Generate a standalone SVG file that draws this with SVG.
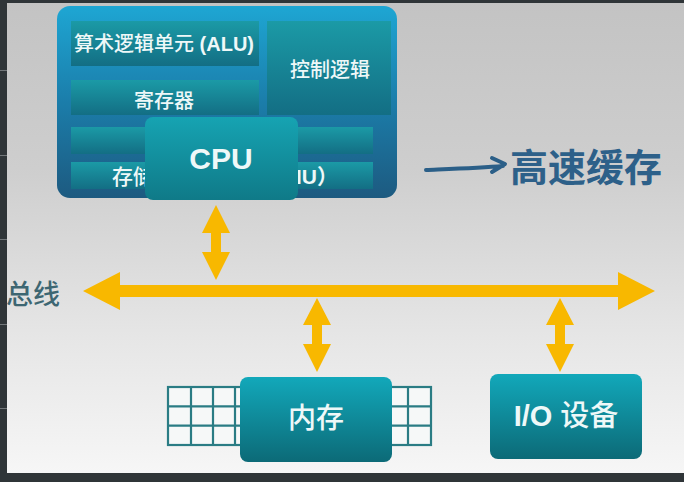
<svg xmlns="http://www.w3.org/2000/svg" width="684" height="482" viewBox="0 0 684 482">
  <defs>
    <linearGradient id="bg" x1="0" y1="0" x2="0" y2="1">
      <stop offset="0" stop-color="#c3c3c3"/>
      <stop offset="0.35" stop-color="#cecece"/>
      <stop offset="0.7" stop-color="#e6e6e6"/>
      <stop offset="1" stop-color="#f7f7f7"/>
    </linearGradient>
    <linearGradient id="outer" x1="0" y1="0" x2="0" y2="1">
      <stop offset="0" stop-color="#1ea6d3"/>
      <stop offset="0.5" stop-color="#1b7daa"/>
      <stop offset="1" stop-color="#1d5a80"/>
    </linearGradient>
    <linearGradient id="blk" x1="0" y1="0" x2="0" y2="1">
      <stop offset="0" stop-color="#1b9aa6"/>
      <stop offset="1" stop-color="#136e84"/>
    </linearGradient>
    <linearGradient id="chip" x1="0" y1="0" x2="0" y2="1">
      <stop offset="0" stop-color="#16a3b2"/>
      <stop offset="1" stop-color="#0f7a88"/>
    </linearGradient>
    <linearGradient id="box" x1="0" y1="0" x2="0" y2="1">
      <stop offset="0" stop-color="#12a8ba"/>
      <stop offset="1" stop-color="#0c6a77"/>
    </linearGradient>
    <style>
      .blk { fill: url(#blk); }
      .box { fill: url(#box); }
      .lbl { font-family: "Liberation Sans", "Noto Sans CJK SC", sans-serif; fill: #eef8f8; font-weight: 500; text-anchor: middle; dominant-baseline: central; }
      .b { font-weight: bold; }
      .arrow { fill: #f8b800; }
      .grid { fill: #f6f8f8; stroke: #2a7c84; stroke-width: 2.2; }
      .hand { fill: none; stroke: #2b5f88; stroke-width: 4; stroke-linecap: round; stroke-linejoin: round; }
    </style>
  </defs>

  <!-- background -->
  <rect x="0" y="0" width="684" height="482" fill="url(#bg)"/>
  <rect x="0" y="0" width="7" height="482" fill="#2f3538"/>
  <rect x="0" y="0" width="684" height="3" fill="#2f3538"/>
  <rect x="0" y="473" width="684" height="9" fill="#2f3538"/>
  <g stroke="#72777a" stroke-width="1">
    <line x1="0" y1="70.5" x2="7" y2="70.5"/>
    <line x1="0" y1="155.5" x2="7" y2="155.5"/>
    <line x1="0" y1="239.5" x2="7" y2="239.5"/>
    <line x1="0" y1="324.5" x2="7" y2="324.5"/>
    <line x1="0" y1="408.5" x2="7" y2="408.5"/>
  </g>

  <!-- connectors -->
  <g id="connectors">
    <!-- bus -->
    <path class="arrow" d="M83,291 L120,272 L120,285 L618,285 L618,272 L655,291 L618,310 L618,297 L120,297 L120,310 Z"/>
    <!-- CPU <-> bus -->
    <path class="arrow" d="M216,205 L230,233 L221,233 L221,252 L230,252 L216,280 L202,252 L211,252 L211,233 L202,233 Z"/>
    <!-- memory <-> bus -->
    <path class="arrow" d="M317,298 L331,325 L322,325 L322,344 L331,344 L317,372 L303,344 L312,344 L312,325 L303,325 Z"/>
    <!-- IO <-> bus -->
    <path class="arrow" d="M560,298 L574,325 L565,325 L565,344 L574,344 L560,372 L546,344 L555,344 L555,325 L546,325 Z"/>
  </g>

  <!-- CPU -->
  <g id="cpu">
    <rect x="57" y="6" width="340" height="192" rx="13" fill="url(#outer)"/>
    <g id="alu">
      <rect class="blk" x="71" y="21" width="188" height="45"/>
      <text class="lbl" x="164" y="44" font-size="20">算术逻辑单元 <tspan class="b">(ALU)</tspan></text>
    </g>
    <g id="control">
      <rect class="blk" x="267" y="21" width="124" height="94"/>
      <text class="lbl" x="330" y="70" font-size="20">控制逻辑</text>
    </g>
    <g id="register">
      <rect class="blk" x="71" y="80" width="188" height="35"/>
      <text class="lbl" x="164" y="101" font-size="20">寄存器</text>
    </g>
    <g id="row3">
      <rect class="blk" x="71" y="127" width="302" height="27"/>
    </g>
    <g id="mmu">
      <rect class="blk" x="71" y="162" width="302" height="27"/>
      <text class="lbl" x="112" y="176" font-size="21" style="text-anchor:start">存储</text>
      <text class="lbl b" x="338" y="176" font-size="21" style="text-anchor:end">MMU）</text>
    </g>
    <g id="cpu-chip">
      <rect x="145" y="117" width="153" height="83" rx="8" fill="url(#chip)"/>
      <text class="lbl b" x="221" y="158" font-size="30">CPU</text>
    </g>
  </g>

  <!-- bus label -->
  <g id="bus-label">
    <text x="6" y="292" font-family="Noto Sans CJK SC, sans-serif" font-size="27" font-weight="500" fill="#3d6672" dominant-baseline="central">总线</text>
  </g>

  <!-- cache note -->
  <g id="cache-note">
    <path class="hand" d="M426,170 C450,169 480,168 503,166 M492,158 L505,164 L492,172"/>
    <text x="586" y="164" font-family="Noto Sans CJK SC, sans-serif" font-size="38" font-weight="bold" fill="#2d6089" text-anchor="middle" dominant-baseline="central">高速缓存</text>
  </g>

  <!-- memory -->
  <g id="memory">
    <g class="grid">
      <rect x="168" y="387" width="76" height="58"/>
      <line x1="168" y1="406.3" x2="244" y2="406.3"/>
      <line x1="168" y1="425.7" x2="244" y2="425.7"/>
      <line x1="191" y1="387" x2="191" y2="445"/>
      <line x1="213" y1="387" x2="213" y2="445"/>
      <line x1="235" y1="387" x2="235" y2="445"/>
      <rect x="386" y="387" width="45" height="58"/>
      <line x1="386" y1="406.3" x2="431" y2="406.3"/>
      <line x1="386" y1="425.7" x2="431" y2="425.7"/>
      <line x1="408" y1="387" x2="408" y2="445"/>
    </g>
    <rect class="box" x="240" y="377" width="152" height="85" rx="8"/>
    <text class="lbl" x="316" y="418" font-size="28">内存</text>
  </g>

  <!-- IO -->
  <g id="io">
    <rect class="box" x="490" y="374" width="152" height="85" rx="8"/>
    <text class="lbl" x="566" y="416" font-size="29"><tspan class="b">I/O</tspan> 设备</text>
  </g>
</svg>
